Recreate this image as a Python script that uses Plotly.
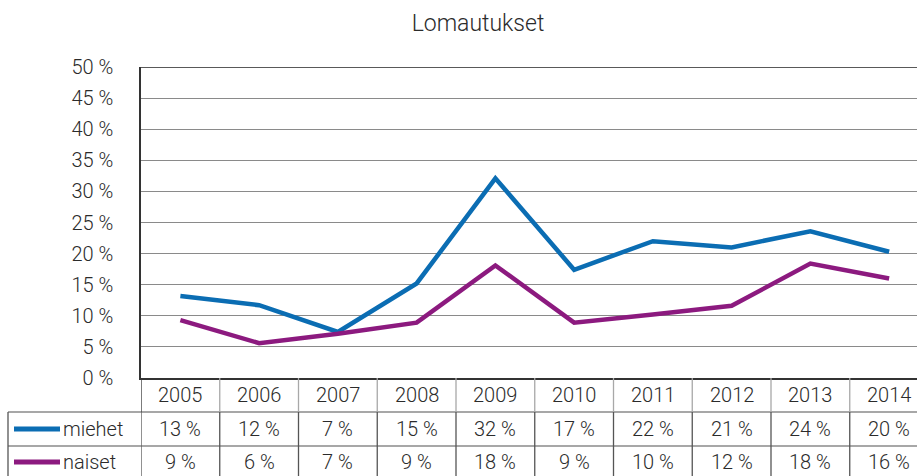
import plotly.graph_objects as go

# ---- data ----
years = ["2005", "2006", "2007", "2008", "2009", "2010", "2011", "2012", "2013", "2014"]
miehet = [13.2, 11.7, 7.4, 15.2, 32.1, 17.4, 22.0, 21.0, 23.6, 20.3]
naiset = [9.3, 5.6, 7.1, 8.9, 18.1, 8.9, 10.2, 11.6, 18.4, 16.0]
series_names = ["miehet", "naiset"]
series_colors = ["#0b6db3", "#8c1a7f"]
y_ticks = [0, 5, 10, 15, 20, 25, 30, 35, 40, 45, 50]
y_tick_labels = [f"{v} %" for v in y_ticks]
title_text = "Lomautukset"

# ---- layout geometry ----
W, H = 917, 476
L, R, T, B = 141, 0, 67, 98
plot_w = W - L - R
plot_h = H - T - B
col_w = 78.75  # pixel width of one category column (plot area continues past page edge)

FONT = "Roboto"
WEIGHT = 300
TXT = "#2b2b2b"


def py(p):
    return (H - B - p) / plot_h


def px(p):
    return (p - L) / plot_w


def fnt(size):
    return dict(family=FONT, size=size, color=TXT, weight=WEIGHT)


xs = list(range(len(years)))
fig = go.Figure()
series = [miehet, naiset]
for name, vals, col in zip(series_names, series, series_colors):
    fig.add_trace(go.Scatter(x=xs, y=vals, mode="lines", name=name,
                             line=dict(color=col, width=4.5), showlegend=False))

shapes = []
annotations = []

# top border of plot
shapes.append(dict(type="line", xref="paper", yref="y", x0=0, x1=1, y0=50, y1=50,
                   line=dict(color="#222", width=1.5)))

# horizontal table lines
for yy in (412, 446):
    shapes.append(dict(type="line", xref="paper", yref="paper", x0=px(8), x1=1.0,
                       y0=py(yy), y1=py(yy), line=dict(color="#8a8a8a", width=1.3)))
# left border of label column
shapes.append(dict(type="line", xref="paper", yref="paper", x0=px(8), x1=px(8),
                   y0=py(412), y1=py(476), line=dict(color="#555", width=1.3)))
# column separators
for k in range(len(years) + 1):
    xv = k - 0.5
    shapes.append(dict(type="line", xref="x", yref="paper", x0=xv, x1=xv,
                       y0=py(378), y1=py(412),
                       line=dict(color="#333" if k == 0 else "#a8a8a8", width=1.3)))
    shapes.append(dict(type="line", xref="x", yref="paper", x0=xv, x1=xv,
                       y0=py(412), y1=py(476), line=dict(color="#555", width=1.3)))

# header (years)
for i, yr in enumerate(years):
    annotations.append(dict(x=i, xref="x", y=py(395), yref="paper", text=yr,
                            showarrow=False, xanchor="center", yanchor="middle",
                            font=fnt(20)))

# data rows
row_centers = [429, 462]
for r, (name, vals, col) in enumerate(zip(series_names, series, series_colors)):
    yc = py(row_centers[r])
    shapes.append(dict(type="line", xref="paper", yref="paper", x0=px(14), x1=px(60),
                       y0=yc, y1=yc, line=dict(color=col, width=5)))
    annotations.append(dict(x=px(61), xref="paper", y=yc, yref="paper", text=name,
                            showarrow=False, xanchor="left", yanchor="middle",
                            font=fnt(20)))
    for i, v in enumerate(vals):
        annotations.append(dict(x=i, xref="x", y=yc, yref="paper", text=f"{round(v)} %",
                                showarrow=False, xanchor="center", yanchor="middle",
                                font=fnt(20)))

fig.update_layout(
    width=W, height=H,
    margin=dict(l=L, r=R, t=T, b=B, pad=0),
    paper_bgcolor="white", plot_bgcolor="white",
    showlegend=False,
    title=dict(text=title_text, x=478 / W, xanchor="center", xref="container",
               y=1 - 23 / H, yanchor="middle", yref="container",
               font=fnt(23)),
    shapes=shapes,
    annotations=annotations,
    xaxis=dict(range=[-0.5, -0.5 + plot_w / col_w], showgrid=False, zeroline=False,
               showline=True, linecolor="#333", linewidth=1.5, showticklabels=False,
               ticks="", fixedrange=True),
    yaxis=dict(range=[0, 50], tickmode="array", tickvals=y_ticks, ticktext=y_tick_labels,
               showgrid=True, gridcolor="#8a8a8a", gridwidth=1.3, zeroline=False,
               showline=True, linecolor="#333", linewidth=1.5,
               ticks="outside", ticklen=22, tickcolor="rgba(0,0,0,0)",
               tickfont=fnt(20), fixedrange=True),
)

fig.write_html("out.html", config={"displayModeBar": False},
               post_script="document.body.style.margin='0';")
